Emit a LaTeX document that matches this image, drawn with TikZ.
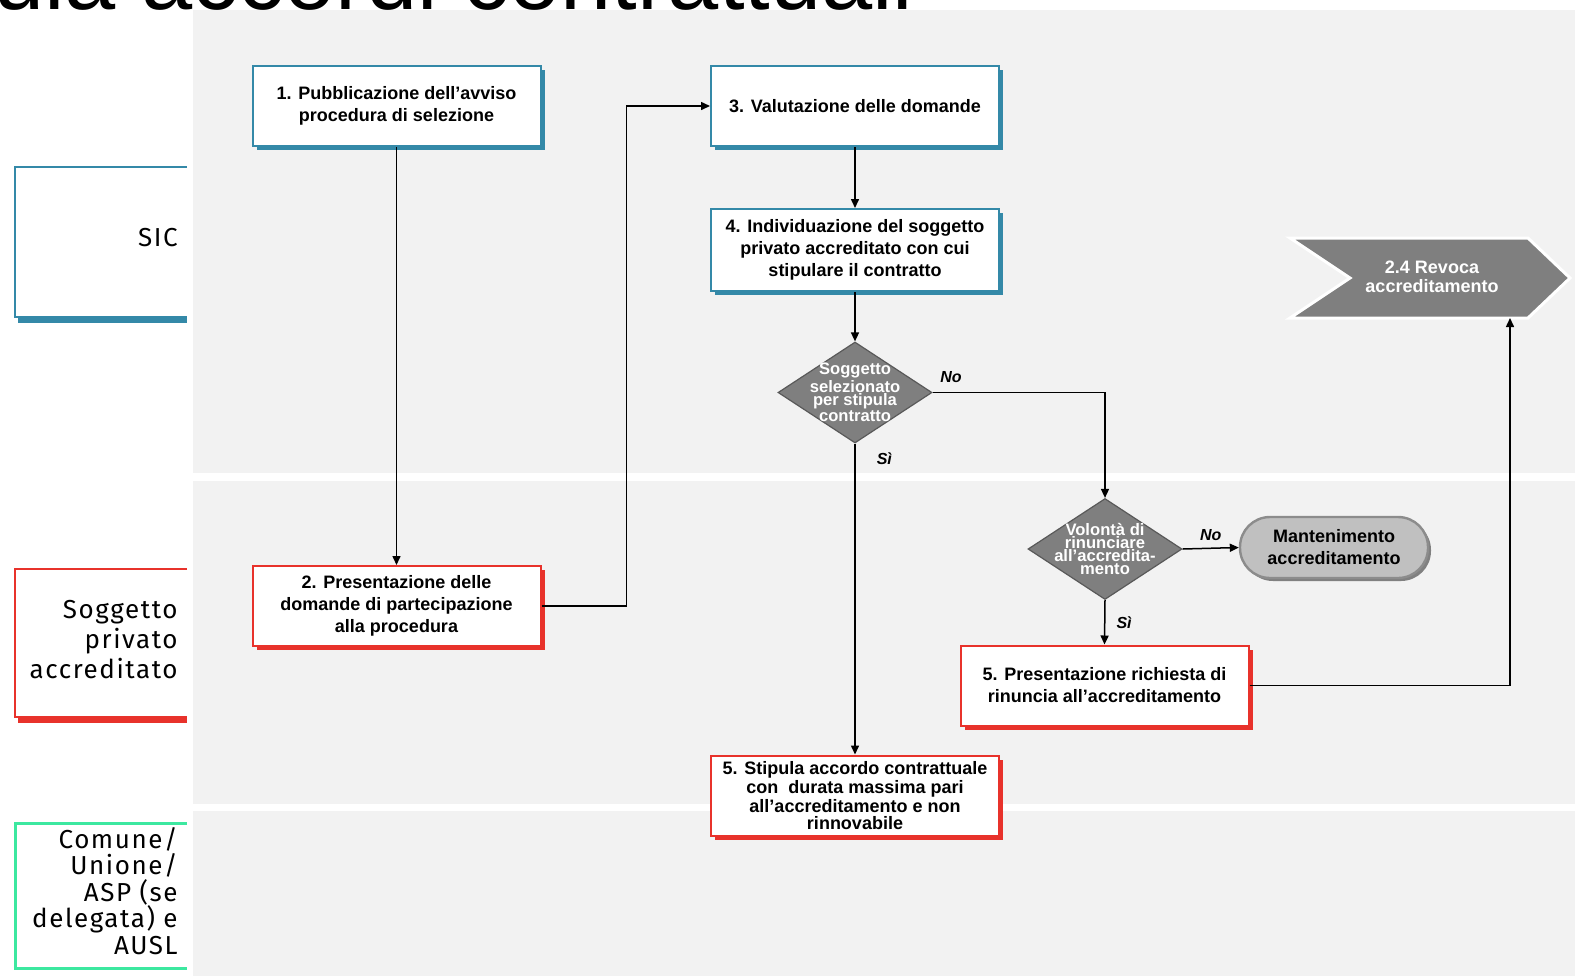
\documentclass[tikz,border=0pt]{standalone}
\usepackage{fontspec}
\setmainfont{Liberation Sans}
\newfontfamily\handfont[LetterSpace=6]{Fira Sans}
\usetikzlibrary{shapes.geometric,shadows,arrows.meta}
\definecolor{sicblue}{RGB}{52,137,168}
\definecolor{privred}{RGB}{232,50,43}
\definecolor{comgreen}{RGB}{60,232,160}
\definecolor{lanegrey}{RGB}{242,242,242}
\definecolor{stepgrey}{RGB}{127,127,127}
\definecolor{keepgrey}{RGB}{192,192,192}

\begin{document}
\begin{tikzpicture}[x=0.5pt,y=-0.5pt,
    box/.style={draw=#1,line width=1pt,fill=white,align=center,inner sep=2pt,
      minimum width=144pt,minimum height=40pt,font=\bfseries\fontsize{9}{11}\selectfont,
      drop shadow={shadow xshift=2pt,shadow yshift=-2pt,opacity=1,fill=#1}},
    decision/.style={diamond,draw=black!65,line width=0.6pt,fill=stepgrey,inner sep=0pt,
      minimum width=77pt,minimum height=50.5pt},
    dlabel/.style={align=center,text=white,inner sep=0pt,font=\bfseries\fontsize{8.3}{6.6}\selectfont},
    keep/.style={draw=black!45,line width=1.2pt,fill=keepgrey,rounded corners=15pt,align=center,
      minimum width=94pt,minimum height=30.5pt,font=\bfseries\fontsize{9}{11}\selectfont,
      drop shadow={shadow xshift=1.5pt,shadow yshift=-1.5pt,opacity=1,fill=black!50}},
    lane/.style={anchor=east,align=right,inner sep=0pt,font=\handfont\fontsize{13}{15}\selectfont},
    choice/.style={font=\bfseries\itshape\fontsize{8}{9}\selectfont,inner sep=1.5pt},
    flow/.style={-{Triangle[length=4.5pt,width=4pt]},line width=0.75pt}]
\useasboundingbox (0,0) rectangle (1575,976);
\clip (0,0) rectangle (1575,976);
% lanes
\fill[lanegrey] (193,10) rectangle (1575,473);
\fill[lanegrey] (193,481) rectangle (1575,804);
\fill[lanegrey] (193,811) rectangle (1575,976);
\node[anchor=base east,inner sep=0pt,font=\fontsize{46}{46}\selectfont] (title) at (914,9) {ula accordi contrattuali};
\draw[sicblue,line width=1pt] (187,167) -- (15,167) -- (15,317) -- (187,317);
\draw[sicblue,line width=3pt] (18,319.5) -- (187,319.5);
\draw[privred,line width=1pt] (187,569) -- (15,569) -- (15,717) -- (187,717);
\draw[privred,line width=3pt] (18,719.5) -- (187,719.5);
\draw[comgreen,line width=1.5pt] (187,823) -- (15,823) -- (15,968) -- (187,968);
\node[lane] (sic) at (178,238) {SIC};
\node[lane] (priv) at (178,640) {Soggetto\\privato\\accreditato};
\node[lane,font=\handfont\fontsize{13}{13.25}\selectfont] (comune) at (178,891) {Comune/\\Unione/\\ASP (se\\delegata) e\\AUSL};
% steps
\node[box=sicblue] (pub) at (396.5,106) {1. Pubblicazione dell’avviso\\procedura di selezione};
\node[box=sicblue] (val) at (855,106) {3. Valutazione delle domande};
\node[box=sicblue,minimum height=41pt] (indiv) at (855,250) {4. Individuazione del soggetto\\privato accreditato con cui\\stipulare il contratto};
\node[box=privred] (pres) at (396.5,606) {2. Presentazione delle\\domande di partecipazione\\alla procedura};
\node[box=privred] (ren) at (1104.5,685.5) {5. Presentazione richiesta di\\rinuncia all’accreditamento};
\node[box=privred,font=\bfseries\fontsize{9}{8.3}\selectfont] (stip) at (855,795.5) {5. Stipula accordo contrattuale\\con~ durata massima pari\\all’accreditamento e non\\rinnovabile};
\node[decision,label={[dlabel]center:Soggetto\\selezionato\\per stipula\\contratto}] (dsel) at (855,392.5) {};
\node[decision,label={[dlabel]center:Volontà di\\rinunciare\\all’accredita-\\mento}] (dvol) at (1105,549) {};
\node[keep] (mant) at (1334,547.5) {Mantenimento\\accreditamento};
\fill[stepgrey,draw=white,line width=1.5pt] (1290,238) -- (1528,238) -- (1570,278) -- (1528,318) -- (1290,318) -- (1350,278) -- cycle;
\node[align=center,text=white,font=\bfseries\fontsize{9}{9.5}\selectfont] (revoca) at (1432,277) {2.4 Revoca\\accreditamento};
\coordinate (revoca-in) at (1510,318);
% connectors
\draw[flow] (pub) -- (pres);
\draw[flow] (pres.east) -- ++(85,0) |- (val.west);
\draw[flow] (val) -- (indiv);
\draw[flow] (indiv) -- (dsel);
\draw[flow] (dsel.east) -| (dvol.north) node[choice,pos=0,anchor=south west,xshift=2pt,yshift=3pt] {No};
\draw[flow] (dsel.south) -- (stip.north) node[choice,pos=0.05,right=9pt] {Sì};
\draw[flow] (dvol.east) -- (mant.west) node[choice,midway,above=2pt] {No};
\draw[flow] (dvol.south) -- (ren.north) node[choice,midway,right=4pt] {Sì};
\draw[flow] (ren.east) -| (revoca-in);
\end{tikzpicture}
\end{document}
